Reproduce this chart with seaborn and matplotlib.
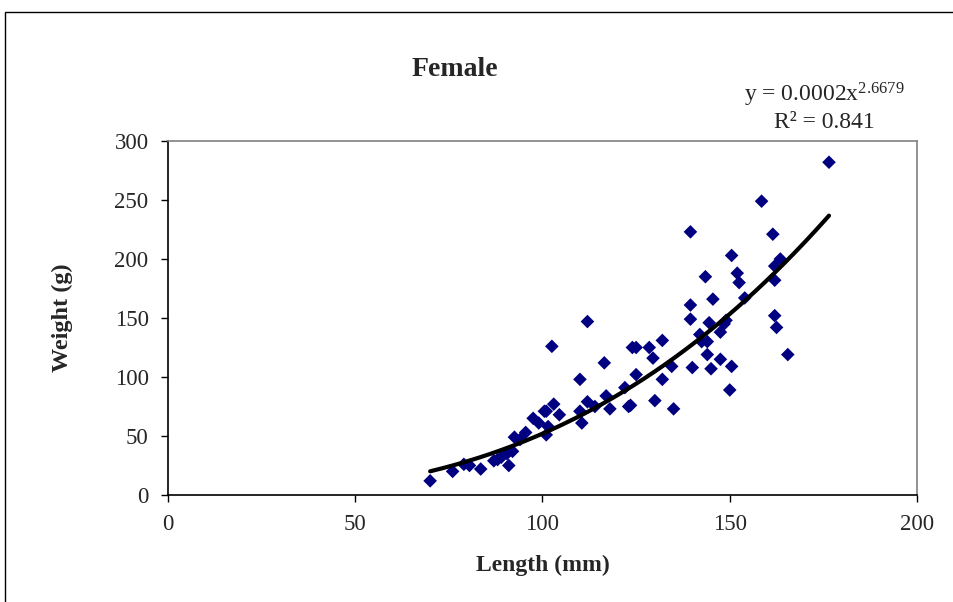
import numpy as np
import pandas as pd
import seaborn as sns
import matplotlib.pyplot as plt
from matplotlib.patches import Rectangle

# Female length-weight data
length_mm = [70, 76, 79, 80.5, 83.5, 87, 88, 89, 91, 90.5, 92, 92.5, 94, 95.5, 97.5, 99,
             100.5, 101, 101, 101.5, 102.5, 103, 104.5, 110, 110.5, 110, 112, 112, 114,
             116.5, 117, 118, 122, 123.5, 123, 124, 125, 125, 128.5, 129.5, 130, 132, 132,
             134.5, 135, 139.5, 139.5, 139.5, 140, 142, 142.5, 143.5, 144, 144, 144.5, 145,
             145.5, 147.5, 147.5, 148.5, 149, 150, 150.5, 150.5, 152, 152.5, 154, 158.5,
             161.5, 162, 162, 162, 162.5, 163.5, 165.5, 176.5]
weight_g = [12, 20, 26, 25, 22, 29, 30, 32, 25, 35, 37, 49, 47, 53, 65, 61,
            71, 71, 51, 58, 126, 77, 68, 98, 61, 71, 147, 79, 75,
            112, 84, 73, 91, 76, 75, 125, 125, 102, 125, 116, 80, 131, 98,
            109, 73, 223, 161, 149, 108, 136, 130, 185, 130, 119, 146, 107,
            166, 115, 138, 145, 148, 89, 203, 109, 188, 180, 167, 249,
            221, 194, 182, 152, 142, 200, 119, 282]

x_ticks = [0, 50, 100, 150, 200]
y_ticks = [0, 50, 100, 150, 200, 250, 300]

# power trendline y = a * x^b (label shows a rounded to 0.0002)
trend_a = 0.00024
trend_b = 2.6679
trend_label = r"y = 0.0002x$^{2.6679}$"
r2_label = "R² = 0.841"

df = pd.DataFrame({"Length": length_mm, "Weight": weight_g})
xs = np.linspace(df["Length"].min(), df["Length"].max(), 200)
trend = pd.DataFrame({"Length": xs, "Weight": trend_a * xs ** trend_b})

sns.set_style("white")
plt.rcParams['font.family'] = ['Liberation Serif', 'DejaVu Serif']
plt.rcParams['mathtext.fontset'] = 'custom'
plt.rcParams['mathtext.rm'] = 'Liberation Serif'
plt.rcParams['mathtext.it'] = 'Liberation Serif'

fig = plt.figure(figsize=(9.54, 6.02), dpi=100)
ax = fig.add_axes([168 / 954, 1 - 495 / 602, (917 - 168) / 954, (495 - 141) / 602])

sns.scatterplot(data=df, x="Length", y="Weight", marker="D", color="#000080",
                edgecolor="none", s=48, ax=ax, zorder=3)
sns.lineplot(data=trend, x="Length", y="Weight", color="black", linewidth=3, ax=ax, zorder=4)

ax.set_xlim(0, 200)
ax.set_ylim(0, 300)
ax.set_xticks(x_ticks)
ax.set_yticks(y_ticks)
ax.tick_params(axis="both", labelsize=16.5, direction="out", length=5, width=1,
               color="black", pad=9, left=True, bottom=True)
ax.set_xlabel("Length (mm)", fontsize=17, fontweight="bold", labelpad=14)
ax.set_ylabel("Weight (g)", fontsize=17.5, fontweight="bold", labelpad=30)

for side in ["left", "bottom"]:
    ax.spines[side].set_color("black")
    ax.spines[side].set_linewidth(1.2)
for side in ["top", "right"]:
    ax.spines[side].set_color("#808080")
    ax.spines[side].set_linewidth(1.2)

fig.text(455 / 954, 1 - 69 / 602, "Female", fontsize=20, fontweight="bold",
         ha="center", va="center")
fig.text(824 / 954, 1 - 95 / 602, trend_label, fontsize=17, ha="center", va="center")
fig.text(824 / 954, 1 - 123 / 602, r2_label, fontsize=17, ha="center", va="center")

# chart-area border (only top and left are inside the crop)
fig.patches.append(Rectangle((5 / 954, -0.1), 1.2, 1.1 - 12 / 602, transform=fig.transFigure,
                             fill=False, edgecolor="black", linewidth=1))

fig.savefig("out.png", dpi=100)
